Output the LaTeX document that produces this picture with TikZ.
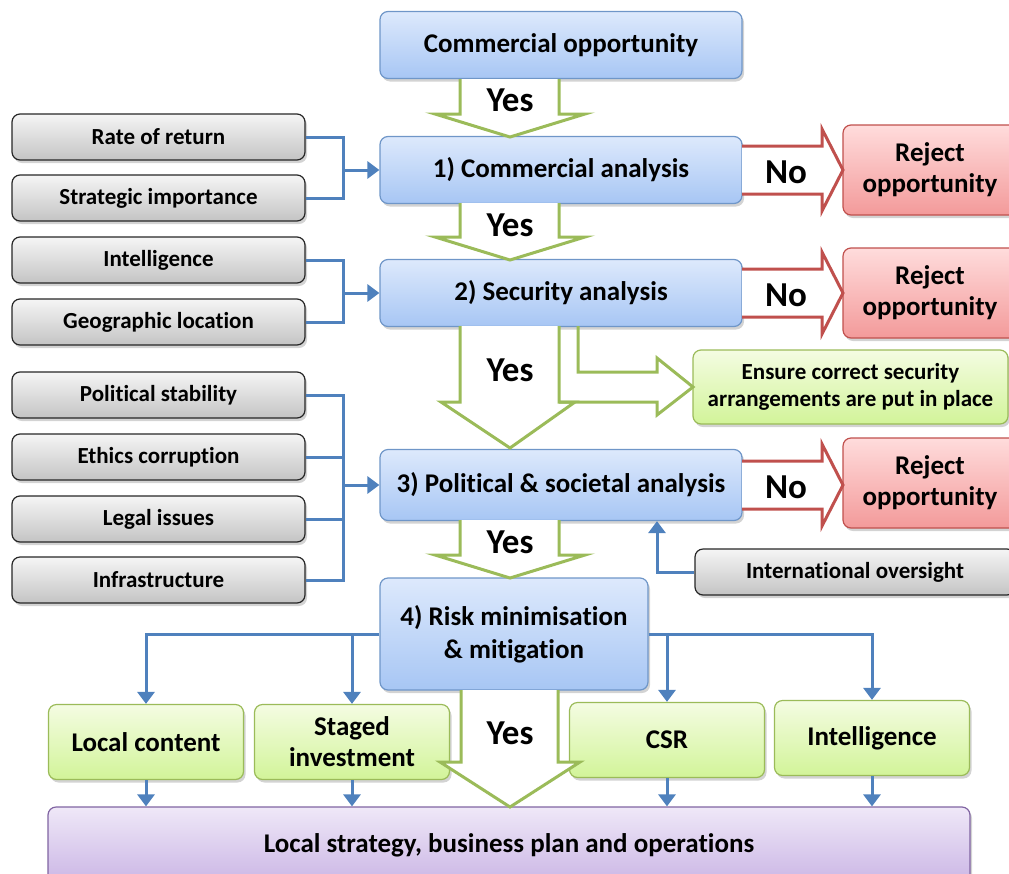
\documentclass[tikz,border=0pt]{standalone}
\usepackage{fontspec}
\setmainfont{Carlito}[Ligatures=NoCommon]
\usetikzlibrary{arrows.meta,shadows}

\definecolor{bluetop}{HTML}{DDE9FC}
\definecolor{bluebot}{HTML}{A7C6F4}
\definecolor{blueline}{HTML}{6F96C8}
\definecolor{linkblue}{HTML}{4F81BD}
\definecolor{graytop}{HTML}{F5F5F5}
\definecolor{graybot}{HTML}{C4C4C4}
\definecolor{redtop}{HTML}{FFDCDC}
\definecolor{redbot}{HTML}{F39A9A}
\definecolor{redline}{HTML}{C0504D}
\definecolor{greentop}{HTML}{F4FCE2}
\definecolor{greenbot}{HTML}{D2F499}
\definecolor{greenline}{HTML}{9BBB59}
\definecolor{purpletop}{HTML}{EFE8F8}
\definecolor{purplebot}{HTML}{CBB6E5}
\definecolor{purpleline}{HTML}{8064A2}

\begin{document}
\begin{tikzpicture}[x=1pt,y=-1pt]
	\tikzstyle{box}=[rounded corners=8pt, inner sep=0pt, align=center, line width=1.2pt,
		drop shadow={shadow xshift=2pt, shadow yshift=-3pt, opacity=0.35}]
	\tikzstyle{stage}=[box, draw=blueline, top color=bluetop, bottom color=bluebot,
		minimum width=362pt, minimum height=67pt, font=\fontsize{27}{33}\selectfont\bfseries]
	\tikzstyle{factor}=[box, draw=black!85, top color=graytop, bottom color=graybot,
		minimum width=293pt, minimum height=46pt, font=\fontsize{23}{27}\selectfont\bfseries]
	\tikzstyle{reject}=[box, draw=redline, top color=redtop, bottom color=redbot,
		minimum width=174pt, minimum height=90pt, font=\fontsize{27}{31}\selectfont\bfseries]
	\tikzstyle{action}=[box, draw=greenline, top color=greentop, bottom color=greenbot,
		minimum width=195pt, minimum height=75pt, font=\fontsize{27}{31}\selectfont\bfseries]
	\tikzstyle{plan}=[box, draw=purpleline, top color=purpletop, bottom color=purplebot,
		minimum width=922pt, minimum height=76pt, font=\fontsize{27}{31}\selectfont\bfseries]
	\tikzstyle{link}=[draw=linkblue, line width=3pt]
	\tikzstyle{linkto}=[link, -{Triangle[length=12pt,width=17pt]}]
	\tikzstyle{yesarrow}=[draw=greenline, line width=3pt, fill=white]
	\tikzstyle{noarrow}=[draw=redline, line width=3pt, fill=white]
	\tikzstyle{word}=[font=\fontsize{35}{40}\selectfont\bfseries]
	\useasboundingbox (0,0) rectangle (1009,873);
	% Stages
	\node at (561,45) [stage] (opp) {Commercial opportunity};
	\node at (561,170) [stage] (stage_1) {1) Commercial analysis};
	\node at (561,293) [stage] (stage_2) {2) Security analysis};
	\node at (561,485) [stage, minimum height=71pt] (stage_3) {3) Political \& societal analysis};
	\node at (514,634) [stage, minimum width=268pt, minimum height=112pt] (stage_4) {4) Risk minimisation\\\& mitigation};
	% Factors
	\foreach \y/\t [count=\i] in {137/Rate of return, 198/Strategic importance, 260/Intelligence,
			322/Geographic location, 395/Political stability, 457/Ethics corruption,
			519/Legal issues, 580/Infrastructure}
		\node at (158.5,\y) [factor] (factor_\i) {\t};
	\node at (855,572) [factor, minimum width=320pt] (oversight) {International oversight};
	% Rejections
	\foreach \y [count=\i] in {170,293,483}
		\node at (930,\y) [reject] (reject_\i) {Reject\\opportunity};
	\node at (850.5,387) [box, draw=greenline, top color=greentop, bottom color=greenbot,
		minimum width=315pt, minimum height=74pt, font=\fontsize{23}{27}\selectfont\bfseries]
		(ensure) {Ensure correct security\\arrangements are put in place};
	% Actions
	\node at (146,742) [action] (action_1) {Local content};
	\node at (352,742) [action] (action_2) {Staged\\investment};
	\node at (667,740) [action] (action_3) {CSR};
	\node at (872,738) [action] (action_4) {Intelligence};
	\node at (509,845) [plan] (plan) {Local strategy, business plan and operations};
	%---------------------%
	% Factors -> Stages
	\coordinate (join_1) at (343,170);
	\coordinate (join_2) at (343,293);
	\coordinate (join_3) at (343,485);
	\foreach \i in {1,2}
		\draw [link] (factor_\i.east) -| (join_1);
	\foreach \i in {3,4}
		\draw [link] (factor_\i.east) -| (join_2);
	\foreach \i in {5,...,8}
		\draw [link] (factor_\i.east) -| (join_3);
	\foreach \j in {1,2,3}
		\draw [linkto] (join_\j) -- (stage_\j.west);
	\draw [linkto] (oversight.west) -| ([xshift=96pt]stage_3.south);
	% Stage 4 -> Actions
	\draw [linkto] (stage_4.west) -| (action_1.north);
	\draw [linkto] (action_2.north |- stage_4.west) -- (action_2.north);
	\draw [linkto] (stage_4.east) -| (action_4.north);
	\draw [linkto] (action_3.north |- stage_4.east) -- (action_3.north);
	% Actions -> Plan
	\foreach \i in {1,...,4}
		\draw [linkto] (action_\i.south) -- (action_\i.south |- plan.north);
	%---------------------%
	% Yes arrows
	\foreach \t/\b in {79/137, 203/260, 520/578}
		\draw [yesarrow] (460,\t) -- (460,\b-23) -- (435,\b-23) -- (510,\b) -- (585,\b-23) -- (559,\b-23) -- (559,\t);
	\draw [yesarrow] (460,326) -- (460,402) -- (441,402) -- (510,448) -- (575,402) -- (559,402) -- (559,326);
	\draw [draw=greenline, line width=3pt] (578,326) -- (578,372) -- (657,372) -- (657,358) -- (693,387) -- (657,415) -- (657,402) -- (559,402);
	\draw [yesarrow] (461,690) -- (461,762) -- (440,762) -- (510,807) -- (580,762) -- (558,762) -- (558,690);
	\foreach \y in {100,225,370,542,733}
		\node at (510,\y) [word] {Yes};
	% No arrows
	\foreach \y in {170,293,485}{
		\draw [noarrow] (742,\y-24) -- (822,\y-24) -- (822,\y-41) -- (843,\y) -- (822,\y+41) -- (822,\y+24) -- (742,\y+24);
		\node at (786,\y+2) [word] {No};
	}
\end{tikzpicture}
\end{document}
